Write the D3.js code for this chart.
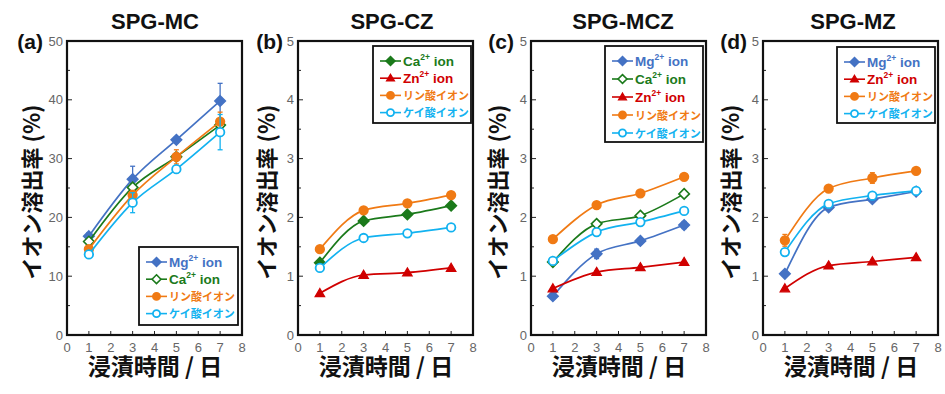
<!DOCTYPE html>
<html><head><meta charset="utf-8">
<script src="https://cdn.jsdelivr.net/npm/d3@7"></script>
<style>
body{margin:0;background:#fff;}
svg{display:block;font-family:"Liberation Sans",Arial,"Noto Sans CJK JP",sans-serif;}
</style></head>
<body><svg id="c" width="945" height="394"></svg>
<script>
// ---- data ----
const days = [1, 3, 5, 7];
const xTicks = [0, 1, 2, 3, 4, 5, 6, 7, 8];
const panelTitles = ["SPG-MC", "SPG-CZ", "SPG-MCZ", "SPG-MZ"];
const panelLabels = ["(a)", "(b)", "(c)", "(d)"];
const yMaxes = [50, 5, 5, 5];
const yTicksA = [0, 10, 20, 30, 40, 50];
const yTicksB = [0, 1, 2, 3, 4, 5];

// panel (a) SPG-MC
const aMg = [16.8, 26.5, 33.2, 39.8];
const aMgErr = [0.6, 2.2, 0.5, 3.0];
const aCa = [15.9, 25.1, 30.3, 35.7];
const aCaErr = [0.4, 0.6, 0.5, 0.6];
const aP = [14.6, 23.8, 30.3, 36.3];
const aPErr = [0.5, 0.8, 1.2, 1.6];
const aSi = [13.7, 22.5, 28.2, 34.5];
const aSiErr = [0.4, 1.7, 0.5, 3.0];
// panel (b) SPG-CZ
const bCa = [1.23, 1.94, 2.05, 2.20];
const bZn = [0.71, 1.02, 1.06, 1.14];
const bP = [1.46, 2.12, 2.24, 2.38];
const bSi = [1.14, 1.65, 1.73, 1.83];
// panel (c) SPG-MCZ
const cMg = [0.66, 1.38, 1.60, 1.87];
const cMgErr = [0.04, 0.08, 0.05, 0.06];
const cCa = [1.24, 1.89, 2.03, 2.40];
const cZn = [0.79, 1.07, 1.15, 1.24];
const cP = [1.63, 2.21, 2.41, 2.69];
const cSi = [1.26, 1.75, 1.92, 2.11];
// panel (d) SPG-MZ
const dMg = [1.04, 2.17, 2.31, 2.44];
const dZn = [0.79, 1.18, 1.25, 1.32];
const dP = [1.61, 2.49, 2.67, 2.79];
const dPErr = [0.1, 0.04, 0.09, 0.03];
const dSi = [1.41, 2.23, 2.37, 2.45];

// ---- styles ----
const ionStyle = {
  Mg: {color: "#4472C4", shape: "diamond", fill: true, label: ["Mg", "2+", " ion"]},
  Ca: {color: "#1B7A1B", shape: "diamond", fill: false, label: ["Ca", "2+", " ion"]},
  Zn: {color: "#D00000", shape: "triangle", fill: true, label: ["Zn", "2+", " ion"]},
  P:  {color: "#F07A14", shape: "circle", fill: true, label: ["リン酸イオン", "", ""]},
  Si: {color: "#12B2F0", shape: "circle", fill: false, label: ["ケイ酸イオン", "", ""]}
};

const panels = [
  {series: [{ion: "Mg", v: aMg, e: aMgErr}, {ion: "Ca", v: aCa, e: aCaErr}, {ion: "P", v: aP, e: aPErr}, {ion: "Si", v: aSi, e: aSiErr}],
   legend: {x: 139, y: 247, w: 99, h: 78}},
  {series: [{ion: "Ca", v: bCa, fill: true}, {ion: "Zn", v: bZn}, {ion: "P", v: bP}, {ion: "Si", v: bSi}],
   legend: {x: 373, y: 46, w: 98, h: 77}},
  {series: [{ion: "Mg", v: cMg, e: cMgErr}, {ion: "Ca", v: cCa}, {ion: "Zn", v: cZn}, {ion: "P", v: cP}, {ion: "Si", v: cSi}],
   legend: {x: 605, y: 46, w: 98, h: 96}},
  {series: [{ion: "Mg", v: dMg}, {ion: "Zn", v: dZn}, {ion: "P", v: dP, e: dPErr}, {ion: "Si", v: dSi}],
   legend: {x: 837, y: 47, w: 98, h: 76}}
];

// layout
const lefts = [67, 298, 531, 763];
const titleX = [155, 392, 623, 853];
const labelRight = [43, 283, 514, 747];
const yLabelX = [30, 265, 496, 729];
const plotW = 175, plotTop = 41, plotH = 294;

const svg = d3.select("#c");

function drawMarker(g, shape, cx, cy, color, filled, s) {
  const fill = filled ? color : "#fff";
  if (shape === "circle") {
    g.append("circle").attr("cx", cx).attr("cy", cy).attr("r", s * 0.85)
      .attr("fill", fill).attr("stroke", color).attr("stroke-width", 1.8);
  } else if (shape === "diamond") {
    const r = s * 1.05;
    g.append("path").attr("d", `M${cx},${cy - r}L${cx + r},${cy}L${cx},${cy + r}L${cx - r},${cy}Z`)
      .attr("fill", fill).attr("stroke", color).attr("stroke-width", 1.6);
  } else {
    const r = s * 0.95;
    g.append("path").attr("d", `M${cx},${cy - r}L${cx + r},${cy + r * 0.7}L${cx - r},${cy + r * 0.7}Z`)
      .attr("fill", fill).attr("stroke", color).attr("stroke-width", 1.2);
  }
}

panels.forEach((p, i) => {
  const L = lefts[i];
  const x = d3.scaleLinear().domain([0, 8]).range([L, L + plotW]);
  const y = d3.scaleLinear().domain([0, yMaxes[i]]).range([plotTop + plotH, plotTop]);
  const g = svg.append("g");
  const yt = i === 0 ? yTicksA : yTicksB;
  const minor = yt.slice(0, -1).map(v => v + yMaxes[i] / 10);

  // ticks (inward)
  g.selectAll(".xt").data(xTicks.slice(1, -1)).join("line")
    .attr("x1", d => x(d)).attr("x2", d => x(d))
    .attr("y1", plotTop + plotH).attr("y2", plotTop + plotH - 4)
    .attr("stroke", "#222").attr("stroke-width", 1);
  g.selectAll(".ytm").data(yt.slice(1, -1)).join("line")
    .attr("x1", L).attr("x2", L + 5).attr("y1", d => y(d)).attr("y2", d => y(d))
    .attr("stroke", "#222").attr("stroke-width", 1);
  g.selectAll(".ytn").data(minor).join("line")
    .attr("x1", L).attr("x2", L + 3).attr("y1", d => y(d)).attr("y2", d => y(d))
    .attr("stroke", "#222").attr("stroke-width", 1);

  // tick labels
  g.selectAll(".xl").data(xTicks).join("text")
    .attr("x", d => x(d)).attr("y", plotTop + plotH + 17)
    .attr("text-anchor", "middle").attr("font-size", 13).attr("fill", "#666")
    .text(d => d);
  g.selectAll(".yl").data(yt).join("text")
    .attr("x", L - 4).attr("y", d => y(d) + 4.5)
    .attr("text-anchor", "end").attr("font-size", 13).attr("fill", "#666")
    .text(d => d);

  // series
  const line = d3.line().x((d, k) => x(days[k])).y(d => y(d)).curve(d3.curveMonotoneX);
  p.series.forEach(s => {
    const st = ionStyle[s.ion];
    const filled = s.fill !== undefined ? s.fill : st.fill;
    if (s.e) {
      s.v.forEach((v, k) => {
        const e = s.e[k];
        g.append("line").attr("x1", x(days[k])).attr("x2", x(days[k]))
          .attr("y1", y(v - e)).attr("y2", y(v + e)).attr("stroke", st.color).attr("stroke-width", 1.3);
        [v - e, v + e].forEach(t => g.append("line").attr("x1", x(days[k]) - 2.5).attr("x2", x(days[k]) + 2.5)
          .attr("y1", y(t)).attr("y2", y(t)).attr("stroke", st.color).attr("stroke-width", 1.3));
      });
    }
    g.append("path").attr("d", line(s.v)).attr("fill", "none")
      .attr("stroke", st.color).attr("stroke-width", 1.7);
    s.v.forEach((v, k) => drawMarker(g, st.shape, x(days[k]), y(v), st.color, filled, 5));
  });

  // frame
  g.append("rect").attr("x", L).attr("y", plotTop).attr("width", plotW).attr("height", plotH)
    .attr("fill", "none").attr("stroke", "#111").attr("stroke-width", 2.2);

  // legend
  const lg = p.legend;
  g.append("rect").attr("x", lg.x).attr("y", lg.y).attr("width", lg.w).attr("height", lg.h)
    .attr("fill", "#fff").attr("stroke", "#111").attr("stroke-width", 1.8);
  const n = p.series.length;
  const rowStep = n === 5 ? 18 : 17.2;
  p.series.forEach((s, k) => {
    const st = ionStyle[s.ion];
    const filled = s.fill !== undefined ? s.fill : st.fill;
    const ry = lg.y + 15 + k * rowStep;
    g.append("line").attr("x1", lg.x + 7).attr("x2", lg.x + 28).attr("y1", ry).attr("y2", ry)
      .attr("stroke", st.color).attr("stroke-width", 1.6);
    drawMarker(g, st.shape, lg.x + 17.5, ry, st.color, filled, 4.2);
    const t = g.append("text").attr("x", lg.x + 30).attr("y", ry + 5)
      .attr("font-size", 13.5).attr("font-weight", "bold").attr("fill", st.color);
    if (st.label[1]) {
      t.append("tspan").text(st.label[0]);
      t.append("tspan").attr("dy", -6).attr("font-size", 8.5).text(st.label[1]);
      t.append("tspan").attr("dy", 6).text(st.label[2]);
    } else {
      t.attr("font-size", 11).attr("y", ry + 4.5)
        .attr("font-family", "'Noto Sans CJK JP',sans-serif").text(st.label[0]);
    }
  });

  // titles and labels
  g.append("text").attr("x", titleX[i]).attr("y", 29)
    .attr("text-anchor", "middle").attr("font-size", 22).attr("font-weight", "bold")
    .attr("fill", "#111").text(panelTitles[i]);
  g.append("text").attr("x", labelRight[i]).attr("y", 49)
    .attr("text-anchor", "end").attr("font-size", 21).attr("font-weight", "bold")
    .attr("fill", "#111").text(panelLabels[i]);
  g.append("text").attr("transform", `translate(${yLabelX[i]},${plotTop + plotH / 2 + 4}) rotate(-90)`)
    .attr("text-anchor", "middle").attr("dominant-baseline", "central")
    .attr("font-size", 22).attr("font-weight", "bold").attr("fill", "#111")
    .attr("font-family", "'Noto Sans CJK JP','Liberation Sans',sans-serif")
    .text("イオン溶出率 (%)");
  g.append("text").attr("x", L + 88).attr("y", plotTop + plotH + 40)
    .attr("text-anchor", "middle").attr("font-size", 23).attr("font-weight", "bold").attr("fill", "#111")
    .attr("font-family", "'Noto Sans CJK JP','Liberation Sans',sans-serif")
    .text("浸漬時間 / 日");
});
</script></body></html>
